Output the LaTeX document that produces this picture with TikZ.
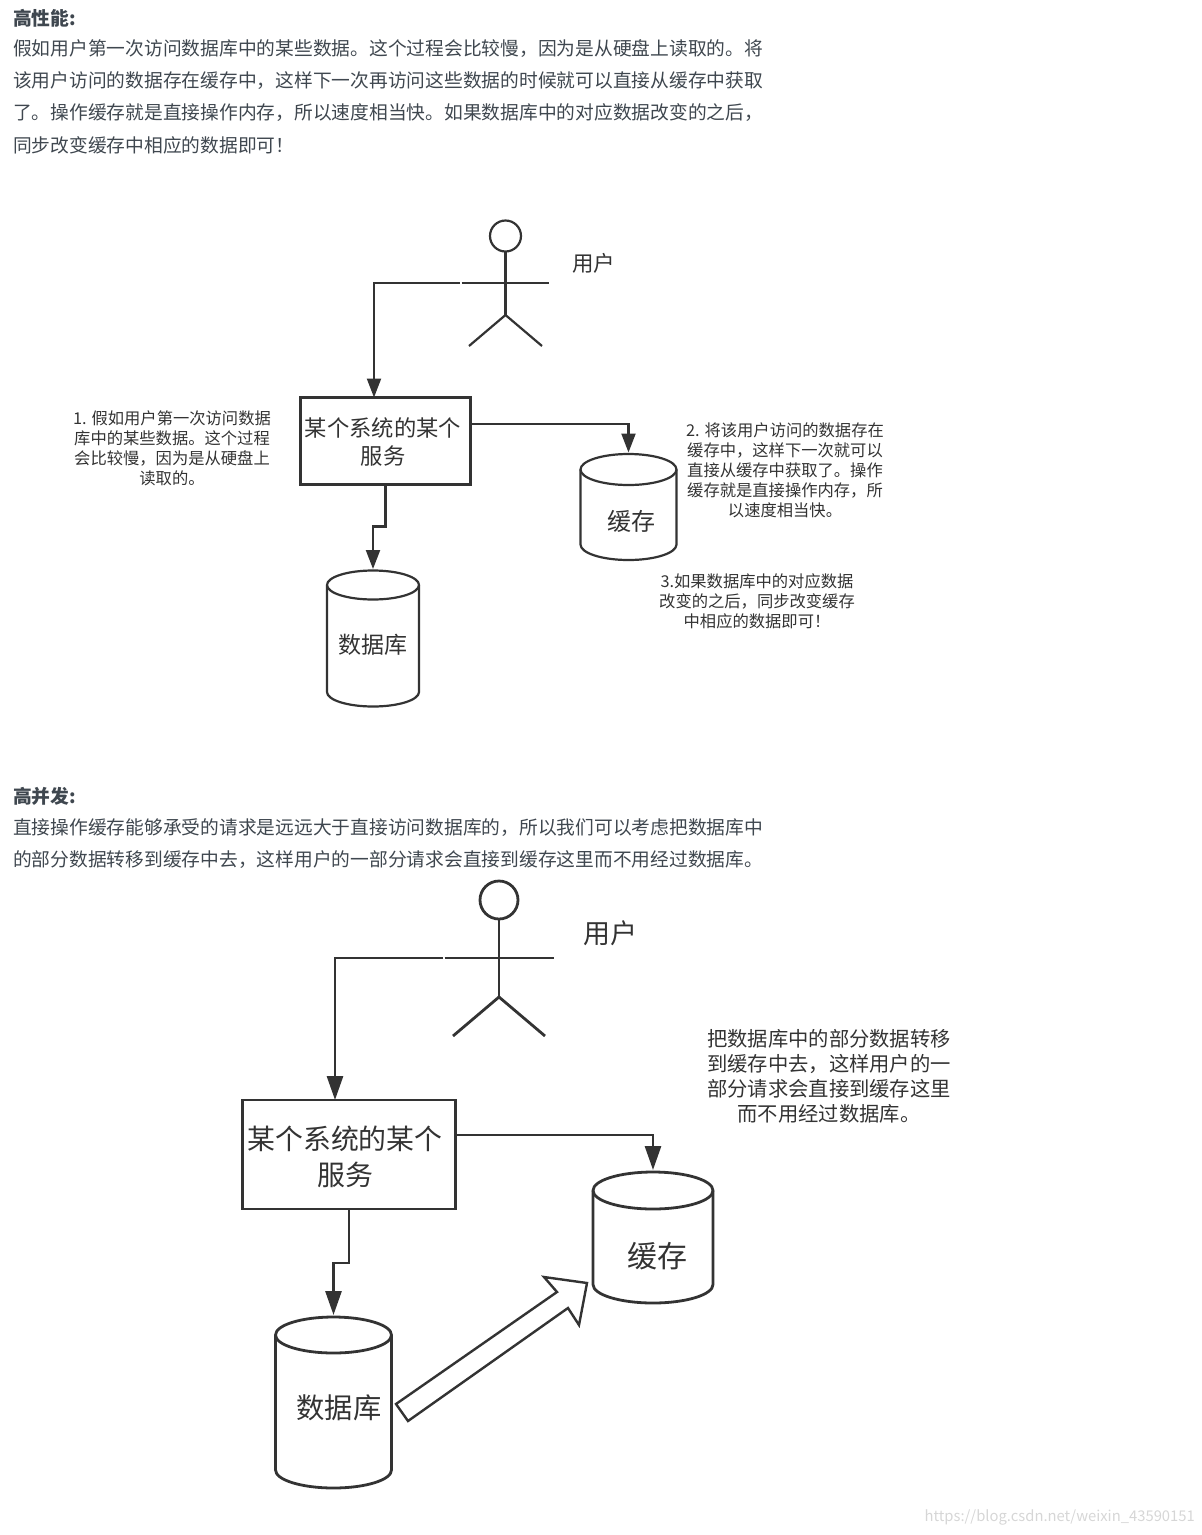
\documentclass[tikz,border=0pt]{standalone}
\usepackage{fontspec}
\setmainfont{Noto Sans CJK SC}
\usepackage{xcolor}
\usetikzlibrary{arrows.meta}
\definecolor{bodygray}{HTML}{3F474F}
\definecolor{inkgray}{HTML}{333333}
\definecolor{marklight}{gray}{0.84}
\newcommand{\cylshell}[3]{%
  \draw[limb] ([yshift=-#3]#1.north west) arc[start angle=180,end angle=0,x radius=#2,y radius=#3]
    -- ([yshift=#3]#1.south east) arc[start angle=0,end angle=-180,x radius=#2,y radius=#3] -- cycle;
  \draw[limb] ([yshift=-#3]#1.north west) arc[start angle=180,end angle=360,x radius=#2,y radius=#3];
}

\begin{document}
\begin{tikzpicture}[
  x=1pt, y=-1pt,
  para/.style={anchor=west, inner sep=0pt, yshift=-1pt, text=bodygray, font=\fontsize{18.75}{20}\selectfont},
  parahead/.style={para, font=\fontsize{18.75}{20}\selectfont\bfseries},
  lbl/.style={inner sep=0pt, text=inkgray, align=center},
  svcbox/.style={draw=inkgray, fill=white, rectangle, inner sep=0pt, outer sep=0pt},
  cyl/.style={rectangle, inner sep=0pt, outer sep=0pt},
  limb/.style={draw=inkgray},
  arrA/.style={draw=inkgray, -{Triangle[length=19pt,width=14pt]}},
  arrB/.style={draw=inkgray, -{Triangle[length=24pt,width=16pt]}}
]
  \useasboundingbox (0,0) rectangle (1202,1535);

  % first block of text
  \node[parahead] (headA) at (13,17)  {高性能:};
  \node[para] (lineA) at (13,48)  {假如用户第一次访问数据库中的某些数据。这个过程会比较慢，因为是从硬盘上读取的。将};
  \node[para] (lineB) at (13,80)  {该用户访问的数据存在缓存中，这样下一次再访问这些数据的时候就可以直接从缓存中获取};
  \node[para] (lineC) at (13,112) {了。操作缓存就是直接操作内存，所以速度相当快。如果数据库中的对应数据改变的之后，};
  \node[para] (lineD) at (13,144) {同步改变缓存中相应的数据即可！};

  % first diagram
  \begin{scope}[line width=2.2pt]
    \node[limb, circle, inner sep=0pt, outer sep=0pt, minimum size=31pt] (userA) at (505.5,236) {};
    \coordinate (hipA)  at (505.5,315);
    \coordinate (armLA) at (461.5,283);
    \coordinate (armRA) at (549,283);
    \coordinate (footLA) at (469,346);
    \coordinate (footRA) at (542,346);
    \coordinate (reachA) at (460,283);
    \draw[limb] (userA) -- (hipA);
    \draw[limb] (armLA) -- (armRA);
    \draw[limb] (footLA) -- (hipA) -- (footRA);
    \node[lbl, font=\fontsize{21.5}{24}\selectfont] (userAtxt) at (593.5,263) {用户};

    \node[svcbox, minimum width=170pt, minimum height=87pt] (svcA) at (385.5,441) {};
    \node[lbl, font=\fontsize{22.3}{28}\selectfont] (svcAtxt) at (383,442) {某个系统的某个\\服务};
    \node[cyl, minimum width=96pt, minimum height=106pt] (cacheA) at (628.5,507) {};
    \cylshell{cacheA}{48pt}{15.5pt}
    \node[lbl, font=\fontsize{24}{28}\selectfont] (cacheAtxt) at (631.5,521) {缓存};
    \node[cyl, minimum width=92pt, minimum height=136pt] (dbA) at (373,638.5) {};
    \cylshell{dbA}{46pt}{14.5pt}
    \node[lbl, font=\fontsize{23}{28}\selectfont] (dbAtxt) at (373,645) {数据库};

    \draw[arrA] (reachA) -| ([xshift=-11.5pt]svcA.north);
    \draw[arrA] ([yshift=17pt]svcA.east) -| ([yshift=1.5pt]cacheA.north);
    \draw[arrA] (svcA.south) -- ++(0,42) -| ([yshift=1.5pt]dbA.north);

    \node[lbl, font=\fontsize{16.3}{20}\selectfont] (noteA) at (172,448) {1. 假如用户第一次访问数据\\库中的某些数据。这个过程\\会比较慢，因为是从硬盘上\\读取的。};
    \node[lbl, font=\fontsize{16.3}{20}\selectfont] (noteB) at (785,470) {2. 将该用户访问的数据存在\\缓存中，这样下一次就可以\\直接从缓存中获取了。操作\\缓存就是直接操作内存，所\\以速度相当快。};
    \node[lbl, font=\fontsize{16.3}{20}\selectfont] (noteC) at (757,601) {3.如果数据库中的对应数据\\改变的之后，同步改变缓存\\中相应的数据即可！};
  \end{scope}

  % second block of text
  \node[parahead] (headB) at (13,795)  {高并发:};
  \node[para] (lineE) at (13,827)  {直接操作缓存能够承受的请求是远远大于直接访问数据库的，所以我们可以考虑把数据库中};
  \node[para] (lineF) at (13,859)  {的部分数据转移到缓存中去，这样用户的一部分请求会直接到缓存这里而不用经过数据库。};

  % second diagram
  \begin{scope}[line width=2.8pt]
    \node[limb, circle, inner sep=0pt, outer sep=0pt, minimum size=38pt] (userB) at (499,900) {};
    \coordinate (hipB)  at (499,997);
    \coordinate (armLB) at (444.5,958);
    \coordinate (armRB) at (553.5,958);
    \coordinate (footLB) at (453,1036);
    \coordinate (footRB) at (545,1036);
    \coordinate (reachB) at (443,958);
    \draw[limb] (userB) -- (hipB);
    \draw[limb] (armLB) -- (armRB);
    \draw[limb] (footLB) -- (hipB) -- (footRB);
    \node[lbl, font=\fontsize{27}{30}\selectfont] (userBtxt) at (610,933) {用户};

    \node[svcbox, minimum width=213pt, minimum height=109pt] (svcB) at (349,1154.5) {};
    \node[lbl, font=\fontsize{27.9}{36}\selectfont] (svcBtxt) at (345,1157) {某个系统的某个\\服务};
    \node[cyl, minimum width=120pt, minimum height=131pt] (cacheB) at (653,1237.5) {};
    \cylshell{cacheB}{60pt}{18.5pt}
    \node[lbl, font=\fontsize{30}{34}\selectfont] (cacheBtxt) at (657,1256) {缓存};
    \node[cyl, minimum width=116pt, minimum height=171pt] (dbB) at (333.5,1402.5) {};
    \cylshell{dbB}{58pt}{18pt}
    \node[lbl, font=\fontsize{28.3}{32}\selectfont] (dbBtxt) at (339,1408) {数据库};

    \draw[arrB] (reachB) -| ([xshift=-14pt]svcB.north);
    \draw[arrB] ([yshift=19.5pt]svcB.east) -| ([yshift=2pt]cacheB.north);
    \draw[arrB] (svcB.south) -- ++(0,54) -| ([yshift=2pt]dbB.north);

    % big hollow arrow from database to cache
    \draw[draw=inkgray, fill=white, line width=2.4pt, line join=miter]
      (396,1404) -- (557,1292) -- (544,1277) -- (587,1283) -- (579,1325) -- (568,1308) -- (408,1421) -- cycle;

    \node[lbl, font=\fontsize{20.3}{25}\selectfont] (noteD) at (829,1076.5) {把数据库中的部分数据转移\\到缓存中去，这样用户的一\\部分请求会直接到缓存这里\\而不用经过数据库。};
  \end{scope}

  \node[anchor=east, inner sep=0pt, text=marklight, font=\fontsize{14.8}{18}\selectfont] (mark) at (1195,1517) {https://blog.csdn.net/weixin\_43590151};
\end{tikzpicture}
\end{document}
